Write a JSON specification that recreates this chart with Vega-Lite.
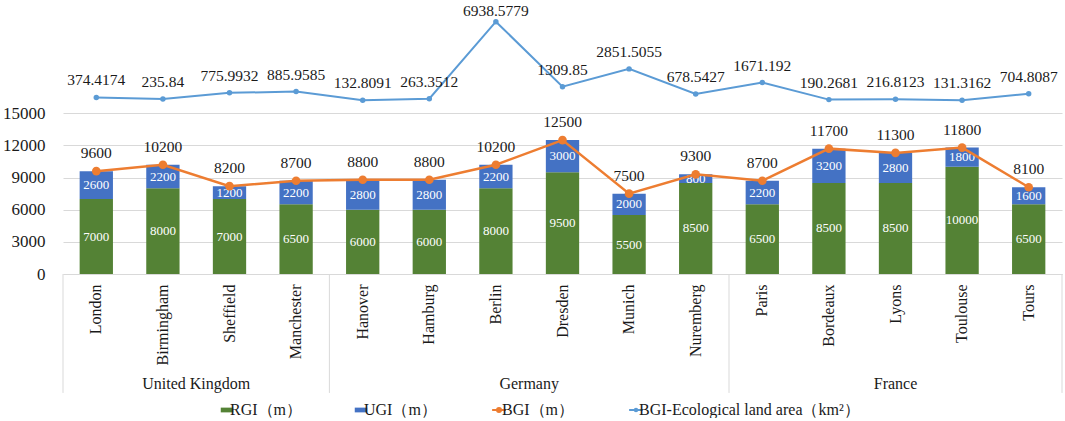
{
  "$schema": "https://vega.github.io/schema/vega-lite/v6.json",
  "description": "RGI / UGI stacked bars with BGI and BGI-ecological land area lines, grouped by country",
  "width": {"step": 66.6},
  "height": 270,
  "padding": {"left": 2, "top": 3, "right": 3, "bottom": 0},
  "data": {
    "values": [
      {"country": "United Kingdom", "city": "London", "series": "RGI（m）", "value": 7000},
      {"country": "United Kingdom", "city": "London", "series": "UGI（m）", "value": 2600},
      {"country": "United Kingdom", "city": "London", "series": "BGI（m）", "value": 9600},
      {"country": "United Kingdom", "city": "London", "series": "BGI-Ecological land area（km²）", "value": 374.4174},
      {"country": "United Kingdom", "city": "Birmingham", "series": "RGI（m）", "value": 8000},
      {"country": "United Kingdom", "city": "Birmingham", "series": "UGI（m）", "value": 2200},
      {"country": "United Kingdom", "city": "Birmingham", "series": "BGI（m）", "value": 10200},
      {"country": "United Kingdom", "city": "Birmingham", "series": "BGI-Ecological land area（km²）", "value": 235.84},
      {"country": "United Kingdom", "city": "Sheffield", "series": "RGI（m）", "value": 7000},
      {"country": "United Kingdom", "city": "Sheffield", "series": "UGI（m）", "value": 1200},
      {"country": "United Kingdom", "city": "Sheffield", "series": "BGI（m）", "value": 8200},
      {"country": "United Kingdom", "city": "Sheffield", "series": "BGI-Ecological land area（km²）", "value": 775.9932},
      {"country": "United Kingdom", "city": "Manchester", "series": "RGI（m）", "value": 6500},
      {"country": "United Kingdom", "city": "Manchester", "series": "UGI（m）", "value": 2200},
      {"country": "United Kingdom", "city": "Manchester", "series": "BGI（m）", "value": 8700},
      {"country": "United Kingdom", "city": "Manchester", "series": "BGI-Ecological land area（km²）", "value": 885.9585},
      {"country": "Germany", "city": "Hanover", "series": "RGI（m）", "value": 6000},
      {"country": "Germany", "city": "Hanover", "series": "UGI（m）", "value": 2800},
      {"country": "Germany", "city": "Hanover", "series": "BGI（m）", "value": 8800},
      {"country": "Germany", "city": "Hanover", "series": "BGI-Ecological land area（km²）", "value": 132.8091},
      {"country": "Germany", "city": "Hamburg", "series": "RGI（m）", "value": 6000},
      {"country": "Germany", "city": "Hamburg", "series": "UGI（m）", "value": 2800},
      {"country": "Germany", "city": "Hamburg", "series": "BGI（m）", "value": 8800},
      {"country": "Germany", "city": "Hamburg", "series": "BGI-Ecological land area（km²）", "value": 263.3512},
      {"country": "Germany", "city": "Berlin", "series": "RGI（m）", "value": 8000},
      {"country": "Germany", "city": "Berlin", "series": "UGI（m）", "value": 2200},
      {"country": "Germany", "city": "Berlin", "series": "BGI（m）", "value": 10200},
      {"country": "Germany", "city": "Berlin", "series": "BGI-Ecological land area（km²）", "value": 6938.5779},
      {"country": "Germany", "city": "Dresden", "series": "RGI（m）", "value": 9500},
      {"country": "Germany", "city": "Dresden", "series": "UGI（m）", "value": 3000},
      {"country": "Germany", "city": "Dresden", "series": "BGI（m）", "value": 12500},
      {"country": "Germany", "city": "Dresden", "series": "BGI-Ecological land area（km²）", "value": 1309.85},
      {"country": "Germany", "city": "Munich", "series": "RGI（m）", "value": 5500},
      {"country": "Germany", "city": "Munich", "series": "UGI（m）", "value": 2000},
      {"country": "Germany", "city": "Munich", "series": "BGI（m）", "value": 7500},
      {"country": "Germany", "city": "Munich", "series": "BGI-Ecological land area（km²）", "value": 2851.5055},
      {"country": "Germany", "city": "Nuremberg", "series": "RGI（m）", "value": 8500},
      {"country": "Germany", "city": "Nuremberg", "series": "UGI（m）", "value": 800},
      {"country": "Germany", "city": "Nuremberg", "series": "BGI（m）", "value": 9300},
      {"country": "Germany", "city": "Nuremberg", "series": "BGI-Ecological land area（km²）", "value": 678.5427},
      {"country": "France", "city": "Paris", "series": "RGI（m）", "value": 6500},
      {"country": "France", "city": "Paris", "series": "UGI（m）", "value": 2200},
      {"country": "France", "city": "Paris", "series": "BGI（m）", "value": 8700},
      {"country": "France", "city": "Paris", "series": "BGI-Ecological land area（km²）", "value": 1671.192},
      {"country": "France", "city": "Bordeaux", "series": "RGI（m）", "value": 8500},
      {"country": "France", "city": "Bordeaux", "series": "UGI（m）", "value": 3200},
      {"country": "France", "city": "Bordeaux", "series": "BGI（m）", "value": 11700},
      {"country": "France", "city": "Bordeaux", "series": "BGI-Ecological land area（km²）", "value": 190.2681},
      {"country": "France", "city": "Lyons", "series": "RGI（m）", "value": 8500},
      {"country": "France", "city": "Lyons", "series": "UGI（m）", "value": 2800},
      {"country": "France", "city": "Lyons", "series": "BGI（m）", "value": 11300},
      {"country": "France", "city": "Lyons", "series": "BGI-Ecological land area（km²）", "value": 216.8123},
      {"country": "France", "city": "Toulouse", "series": "RGI（m）", "value": 10000},
      {"country": "France", "city": "Toulouse", "series": "UGI（m）", "value": 1800},
      {"country": "France", "city": "Toulouse", "series": "BGI（m）", "value": 11800},
      {"country": "France", "city": "Toulouse", "series": "BGI-Ecological land area（km²）", "value": 131.3162},
      {"country": "France", "city": "Tours", "series": "RGI（m）", "value": 6500},
      {"country": "France", "city": "Tours", "series": "UGI（m）", "value": 1600},
      {"country": "France", "city": "Tours", "series": "BGI（m）", "value": 8100},
      {"country": "France", "city": "Tours", "series": "BGI-Ecological land area（km²）", "value": 704.8087}
    ]
  },
  "layer": [
    {
      "layer": [
        {
          "transform": [{"filter": {"field": "series", "oneOf": ["RGI（m）", "UGI（m）"]}}],
          "mark": {"type": "bar", "width": {"band": 0.5}},
          "encoding": {
            "x": {"field": "city", "type": "nominal", "title": null, "sort": null,
                  "scale": {"domain": ["London", "Birmingham", "Sheffield", "Manchester", "Hanover", "Hamburg", "Berlin", "Dresden", "Munich", "Nuremberg", "Paris", "Bordeaux", "Lyons", "Toulouse", "Tours"], "paddingInner": 0, "paddingOuter": 0}},
            "y": {"field": "value", "type": "quantitative", "stack": "zero", "title": null,
                  "scale": {"domain": [0, 25200], "nice": false},
                  "axis": {"values": [0, 3000, 6000, 9000, 12000, 15000], "format": "d"}},
            "color": {"field": "series", "type": "nominal",
                      "scale": {"domain": ["RGI（m）", "UGI（m）", "BGI（m）", "BGI-Ecological land area（km²）"],
                                "range": ["#548235", "#4472C4", "#ED7D31", "#5B9BD5"]},
                      "legend": {
                        "orient": "none", "legendX": 156, "legendY": 398,
                        "encode": {
                          "symbols": {
                            "update": {
                              "shape": {"signal": "datum.value === 'RGI（m）' || datum.value === 'UGI（m）' ? 'M-0.5,-0.19H0.5V0.19H-0.5Z' : datum.value === 'BGI（m）' ? 'M-0.55,0H0.55M0.16,0A0.16,0.16,0,1,1,-0.16,0A0.16,0.16,0,1,1,0.16,0' : 'M-0.55,0H0.55M0.1,0A0.1,0.1,0,1,1,-0.1,0A0.1,0.1,0,1,1,0.1,0'"},
                              "fill": {"signal": "scale('color', datum.value)"},
                              "stroke": {"signal": "scale('color', datum.value)"},
                              "strokeWidth": {"signal": "datum.value === 'RGI（m）' || datum.value === 'UGI（m）' ? 0 : 2"},
                              "opacity": {"value": 1}
                            }
                          }
                        }
                      }},
            "order": {"field": "series", "sort": "ascending"}
          }
        },
        {
          "transform": [{"filter": {"field": "series", "oneOf": ["RGI（m）", "UGI（m）"]}}],
          "mark": {"type": "text", "color": "#ffffff", "fontSize": 13, "font": "Liberation Serif"},
          "encoding": {
            "x": {"field": "city", "type": "nominal", "title": null, "sort": null},
            "y": {"field": "value", "type": "quantitative", "stack": "zero", "bandPosition": 0.5, "title": null},
            "detail": {"field": "series"},
            "order": {"field": "series", "sort": "ascending"},
            "text": {"field": "value", "type": "nominal"}
          }
        },
        {
          "transform": [{"filter": {"field": "series", "equal": "BGI（m）"}}],
          "mark": {"type": "line", "strokeWidth": 2.5, "point": {"filled": true, "size": 75, "opacity": 1}},
          "encoding": {
            "x": {"field": "city", "type": "nominal", "title": null, "sort": null},
            "y": {"field": "value", "type": "quantitative", "title": null},
            "color": {"field": "series", "type": "nominal"}
          }
        },
        {
          "transform": [{"filter": {"field": "series", "equal": "BGI（m）"}}],
          "mark": {"type": "text", "dy": -18, "fontSize": 15.5, "color": "#1a1a1a", "font": "Liberation Serif"},
          "encoding": {
            "x": {"field": "city", "type": "nominal", "title": null, "sort": null},
            "y": {"field": "value", "type": "quantitative", "title": null},
            "text": {"field": "value", "type": "nominal"}
          }
        },
        {
          "data": {"values": [{"city": "London"}, {"city": "Hanover"}, {"city": "Paris"}]},
          "mark": {"type": "rule", "color": "#d9d9d9", "strokeWidth": 1},
          "encoding": {
            "x": {"field": "city", "type": "nominal", "title": null, "sort": null, "bandPosition": 0},
            "y": {"datum": 0, "type": "quantitative", "title": null},
            "y2": {"datum": -11100}
          }
        },
        {
          "data": {"values": [{"city": "Tours"}]},
          "mark": {"type": "rule", "color": "#d9d9d9", "strokeWidth": 1},
          "encoding": {
            "x": {"field": "city", "type": "nominal", "title": null, "sort": null, "bandPosition": 1},
            "y": {"datum": 0, "type": "quantitative", "title": null},
            "y2": {"datum": -11100}
          }
        },
        {
          "data": {"values": [{"city": "Sheffield", "country": "United Kingdom"}, {"city": "Dresden", "country": "Germany"}]},
          "mark": {"type": "text", "fontSize": 16, "color": "#1a1a1a", "font": "Liberation Serif"},
          "encoding": {
            "x": {"field": "city", "type": "nominal", "title": null, "sort": null, "bandPosition": 0},
            "y": {"datum": -10300, "type": "quantitative", "title": null},
            "text": {"field": "country"}
          }
        },
        {
          "data": {"values": [{"city": "Lyons", "country": "France"}]},
          "mark": {"type": "text", "fontSize": 16, "color": "#1a1a1a", "font": "Liberation Serif"},
          "encoding": {
            "x": {"field": "city", "type": "nominal", "title": null, "sort": null, "bandPosition": 0.5},
            "y": {"datum": -10300, "type": "quantitative", "title": null},
            "text": {"field": "country"}
          }
        }
      ]
    },
    {
      "transform": [{"filter": {"field": "series", "equal": "BGI-Ecological land area（km²）"}}],
      "encoding": {
        "x": {"field": "city", "type": "nominal", "title": null, "sort": null},
        "y": {"field": "value", "type": "quantitative", "title": null, "scale": {"domain": [-14910, 8470], "nice": false}, "axis": null}
      },
      "layer": [
        {
          "mark": {"type": "line", "strokeWidth": 2, "point": {"filled": true, "size": 30, "opacity": 1}},
          "encoding": {"color": {"field": "series", "type": "nominal"}}
        },
        {
          "transform": [{"filter": "datum.city !== 'Berlin'"}],
          "mark": {"type": "text", "dy": -17, "fontSize": 15.5, "color": "#1a1a1a", "font": "Liberation Serif"},
          "encoding": {"text": {"field": "value", "type": "nominal"}}
        },
        {
          "transform": [{"filter": "datum.city === 'Berlin'"}],
          "mark": {"type": "text", "dy": -11, "fontSize": 15.5, "color": "#1a1a1a", "font": "Liberation Serif"},
          "encoding": {"text": {"field": "value", "type": "nominal"}}
        }
      ]
    }
  ],
  "resolve": {"scale": {"y": "independent"}},
  "config": {
    "font": "Liberation Serif",
    "view": {"stroke": null},
    "axisX": {
      "labelFont": "Liberation Serif",
      "labelAngle": -90, "labelFontSize": 16, "labelPadding": 10, "labelColor": "#1a1a1a",
      "ticks": false, "grid": false, "domainColor": "#d9d9d9", "labelLimit": 200
    },
    "axisY": {
      "labelFont": "Liberation Serif",
      "labelFontSize": 17, "labelPadding": 18, "labelColor": "#1a1a1a",
      "ticks": false, "domain": false, "grid": true, "gridColor": "#d9d9d9"
    },
    "legend": {
      "direction": "horizontal", "title": null,
      "labelFont": "Liberation Serif",
      "labelFontSize": 16, "labelColor": "#1a1a1a", "labelOffset": -5, "labelLimit": 400,
      "symbolSize": 625, "columnPadding": 51, "padding": 0
    }
  }
}
